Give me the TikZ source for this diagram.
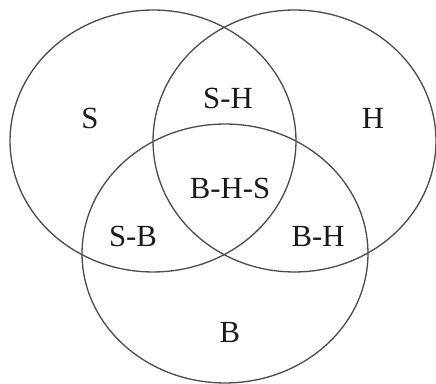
\documentclass[tikz,border=0pt]{standalone}
\usepackage{fontspec}
\setmainfont{Liberation Serif}
\usepackage{tikz}
\usetikzlibrary{shapes.geometric}

\begin{document}
\begin{tikzpicture}[
  x=0.02cm, y=-0.02cm,
  setcirc/.style={ellipse, draw=black!70, line width=0.75pt, inner sep=0pt, outer sep=0pt, minimum width=5.72cm, minimum height=5.24cm},
  lbl/.style={font=\fontsize{17.5}{20}\selectfont, text=black!90, inner sep=1pt}
]
\useasboundingbox (0,0) rectangle (436,384);
% the three sets
\node[setcirc] (sset) at (153,141) {};
\node[setcirc, minimum width=5.66cm] (hset) at (294.5,141) {};
\node[setcirc, minimum height=5.18cm] (bset) at (225,253.5) {};
% region labels
\node[lbl] (s) at (90,118) {S};
\node[lbl] (h) at (373,118) {H};
\node[lbl] (sh) at (228,98) {S-H};
\node[lbl] (bhs) at (230,188) {B-H-S};
\node[lbl] (sb) at (133,236) {S-B};
\node[lbl] (bh) at (318,236) {B-H};
\node[lbl] (b) at (230,332) {B};
\end{tikzpicture}
\end{document}
